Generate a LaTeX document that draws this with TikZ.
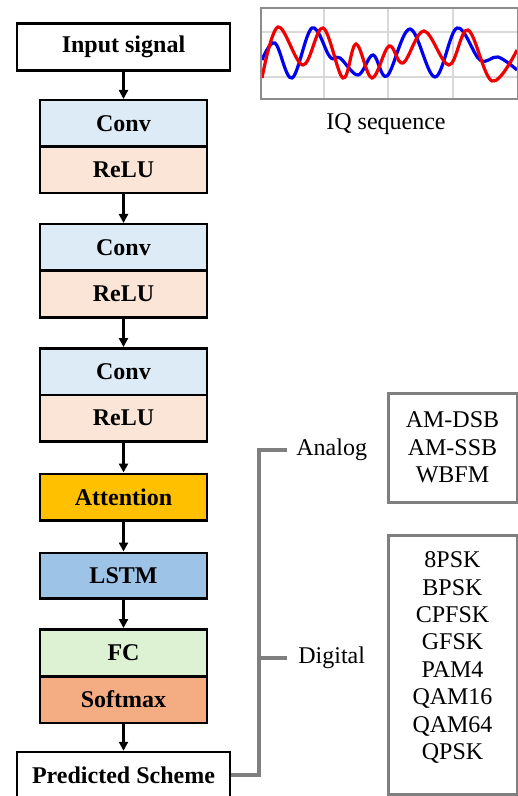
\documentclass[tikz,border=0pt]{standalone}
\usepackage{fontspec}
\setmainfont{Liberation Serif}
\usetikzlibrary{arrows.meta}
\definecolor{convc}{HTML}{DDEBF7}
\definecolor{reluc}{HTML}{FBE5D6}
\definecolor{attc}{HTML}{FFC000}
\definecolor{lstmc}{HTML}{9DC3E6}
\definecolor{fcc}{HTML}{DCF2D3}
\definecolor{softc}{HTML}{F4AC82}
\definecolor{brk}{HTML}{7F7F7F}
\definecolor{iqblue}{HTML}{0000F0}
\definecolor{iqred}{HTML}{F00000}
\tikzset{
  layer/.style={draw=black, line width=1.25pt, minimum width=83.5pt, minimum height=23.25pt, inner sep=0pt, font=\bfseries\fontsize{12}{14}\selectfont},
  io/.style={layer, fill=white, minimum width=106.5pt, minimum height=23.5pt},
  flow/.style={line width=1.2pt, -{Triangle[length=4.5pt,width=4.5pt]}},
  bracket/.style={draw=brk, line width=1.6pt},
  lbl/.style={font=\fontsize{12}{14}\selectfont, inner sep=3pt},
  listbox/.style={draw=brk, line width=1.5pt, minimum width=64.5pt, inner sep=0pt},
  listtxt/.style={font=\fontsize{12}{13.7}\selectfont, align=center, inner sep=0pt}
}
\begin{document}
\begin{tikzpicture}[x=0.5pt,y=-0.5pt]
\useasboundingbox (0,0) rectangle (518,796);
% main chain
\node[io] (input) at (123.5,47) {Input signal};
\node[layer, fill=convc] (conv1) at (123.5,123.5) {Conv};
\node[layer, fill=reluc] (relu1) at (123.5,170) {ReLU};
\node[layer, fill=convc] (conv2) at (123.5,247.5) {Conv};
\node[layer, fill=reluc] (relu2) at (123.5,294) {ReLU};
\node[layer, fill=convc] (conv3) at (123.5,371.5) {Conv};
\node[layer, fill=reluc] (relu3) at (123.5,418) {ReLU};
\node[layer, fill=attc] (att) at (123.5,497) {Attention};
\node[layer, fill=lstmc, minimum height=22.75pt] (lstm) at (123.5,575.5) {LSTM};
\node[layer, fill=fcc] (fc) at (123.5,652.5) {FC};
\node[layer, fill=softc] (soft) at (123.5,699.5) {Softmax};
\node[io, minimum height=23pt] (pred) at (123.5,775) {Predicted Scheme};
\draw[flow] (input) -- (conv1);
\draw[flow] (relu1) -- (conv2);
\draw[flow] (relu2) -- (conv3);
\draw[flow] (relu3) -- (att);
\draw[flow] (att) -- (lstm);
\draw[flow] (lstm) -- (fc);
\draw[flow] (soft) -- (pred);
% categories
\node[lbl, anchor=west] (analog) at (290,450) {Analog};
\node[lbl, anchor=west] (digital) at (292,658) {Digital};
\coordinate (bx) at (259,0);
\draw[bracket] (pred.east) -| (bx |- analog.west) -- ([xshift=-1.5pt]analog.west);
\draw[bracket] (bx |- digital.west) -- ([xshift=-2.5pt]digital.west);
\node[listbox, minimum height=54.5pt] (abox) at (452.5,447.5) {};
\node[listtxt] (alist) at (452.5,447.5) {AM-DSB\\AM-SSB\\WBFM};
\node[listbox, minimum height=129.5pt] (dbox) at (452.5,664.5) {};
\node[listtxt] (dlist) at (452.5,657.5) {8PSK\\BPSK\\CPFSK\\GFSK\\PAM4\\QAM16\\QAM64\\QPSK};
% IQ plot
\begin{scope}
\clip (261,8) rectangle (518,99);
\draw[black!15, line width=0.6pt] (324,8) -- (324,99) (388,8) -- (388,99) (453,8) -- (453,99)
  (261,32) -- (518,32) (261,77) -- (518,77);
\draw[iqblue, line width=1.6pt] plot[smooth, tension=0.6] coordinates {(262,60) (275,43) (292,78) (312,28) (330,57) (340,58) (358,75) (373,55) (387,76) (410,29) (435,77) (457,28) (480,60) (498,57) (517,70)};
\draw[iqred, line width=1.6pt] plot[smooth, tension=0.6] coordinates {(262,78) (278,27) (303,65) (323,28) (343,78) (356,44) (372,78) (389,46) (403,63) (424,31) (449,65) (468,30) (492,81) (517,50)};
\end{scope}
\draw[black!45, line width=0.7pt] (261,8) rectangle (518,99);
\node[lbl, inner sep=0pt] (iqlabel) at (386,124) {IQ sequence};
\end{tikzpicture}
\end{document}
